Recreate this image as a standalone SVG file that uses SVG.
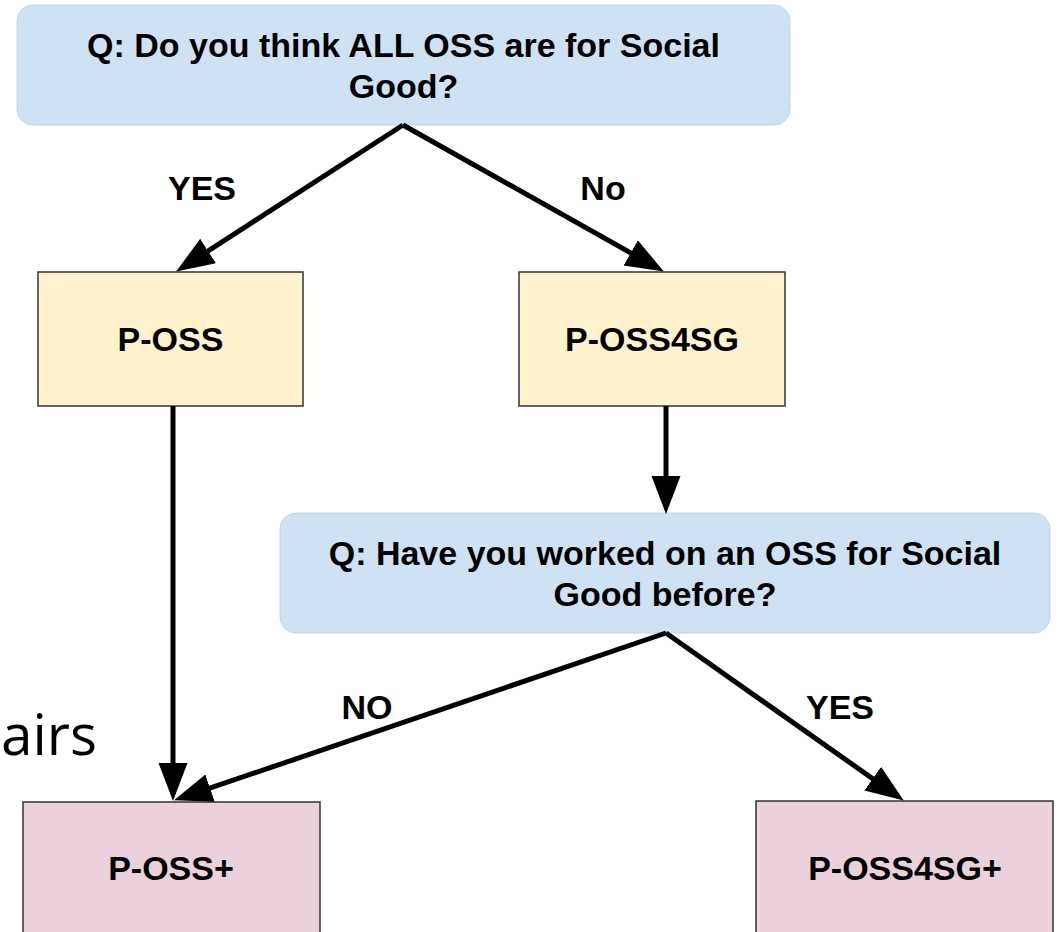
<svg xmlns="http://www.w3.org/2000/svg" width="1064" height="932" viewBox="0 0 1064 932">
<style>
.q{fill:#cfe2f3;stroke:#c3d3e2;stroke-width:1}
.y{fill:#fff2cc;stroke:#333;stroke-width:1.5}
.p{fill:#ead1dc;stroke:#333;stroke-width:1.5}
.t{font-family:"Liberation Sans",Arial,sans-serif;font-weight:bold;font-size:34px;fill:#000;text-anchor:middle}
.c{fill:none;stroke:#000;stroke-width:5}
</style>
<defs>
<marker id="ah" markerUnits="userSpaceOnUse" markerWidth="42" markerHeight="32" refX="22" refY="14.5" orient="auto">
<path d="M0,0 L38,14.5 L0,29 z" fill="#000"/>
</marker>
</defs>
<rect width="1064" height="932" fill="#fff"/>
<text x="1" y="755" font-family="'Open Sans','Noto Sans',sans-serif" font-size="56" fill="#000" textLength="96" lengthAdjust="spacingAndGlyphs">airs</text>
<g id="q1">
<rect class="q" x="17" y="5" width="773" height="120" rx="16"/>
<text class="t" x="403.5" y="57">Q: Do you think ALL OSS are for Social</text>
<text class="t" x="403.5" y="98">Good?</text>
</g>
<g id="poss">
<rect class="y" x="38" y="272" width="265" height="134"/>
<text class="t" x="170.5" y="351">P-OSS</text>
</g>
<g id="poss4sg">
<rect class="y" x="519" y="272" width="266" height="134"/>
<text class="t" x="652" y="351">P-OSS4SG</text>
</g>
<g id="q2">
<rect class="q" x="280" y="513" width="770" height="120" rx="16"/>
<text class="t" x="665" y="565">Q: Have you worked on an OSS for Social</text>
<text class="t" x="665" y="606">Good before?</text>
</g>
<g id="possplus">
<rect class="p" x="23" y="802" width="297" height="200"/>
<text class="t" x="171" y="880">P-OSS+</text>
</g>
<g id="poss4sgplus">
<rect class="p" x="756" y="801" width="297" height="200"/>
<text class="t" x="905" y="880">P-OSS4SG+</text>
</g>
<g id="connectors">
<path class="c" d="M403,125 L189.6,262.9" marker-end="url(#ah)"/>
<path class="c" d="M403,125 L649.9,263.7" marker-end="url(#ah)"/>
<path class="c" d="M173,406 L173,785" marker-end="url(#ah)"/>
<path class="c" d="M666,406 L666,498" marker-end="url(#ah)"/>
<path class="c" d="M666,633 L189.2,795.2" marker-end="url(#ah)"/>
<path class="c" d="M666,633 L890.7,791.4" marker-end="url(#ah)"/>
<text class="t" x="202" y="200">YES</text>
<text class="t" x="603" y="200">No</text>
<text class="t" x="367" y="719">NO</text>
<text class="t" x="840" y="719">YES</text>
</g>
</svg>
